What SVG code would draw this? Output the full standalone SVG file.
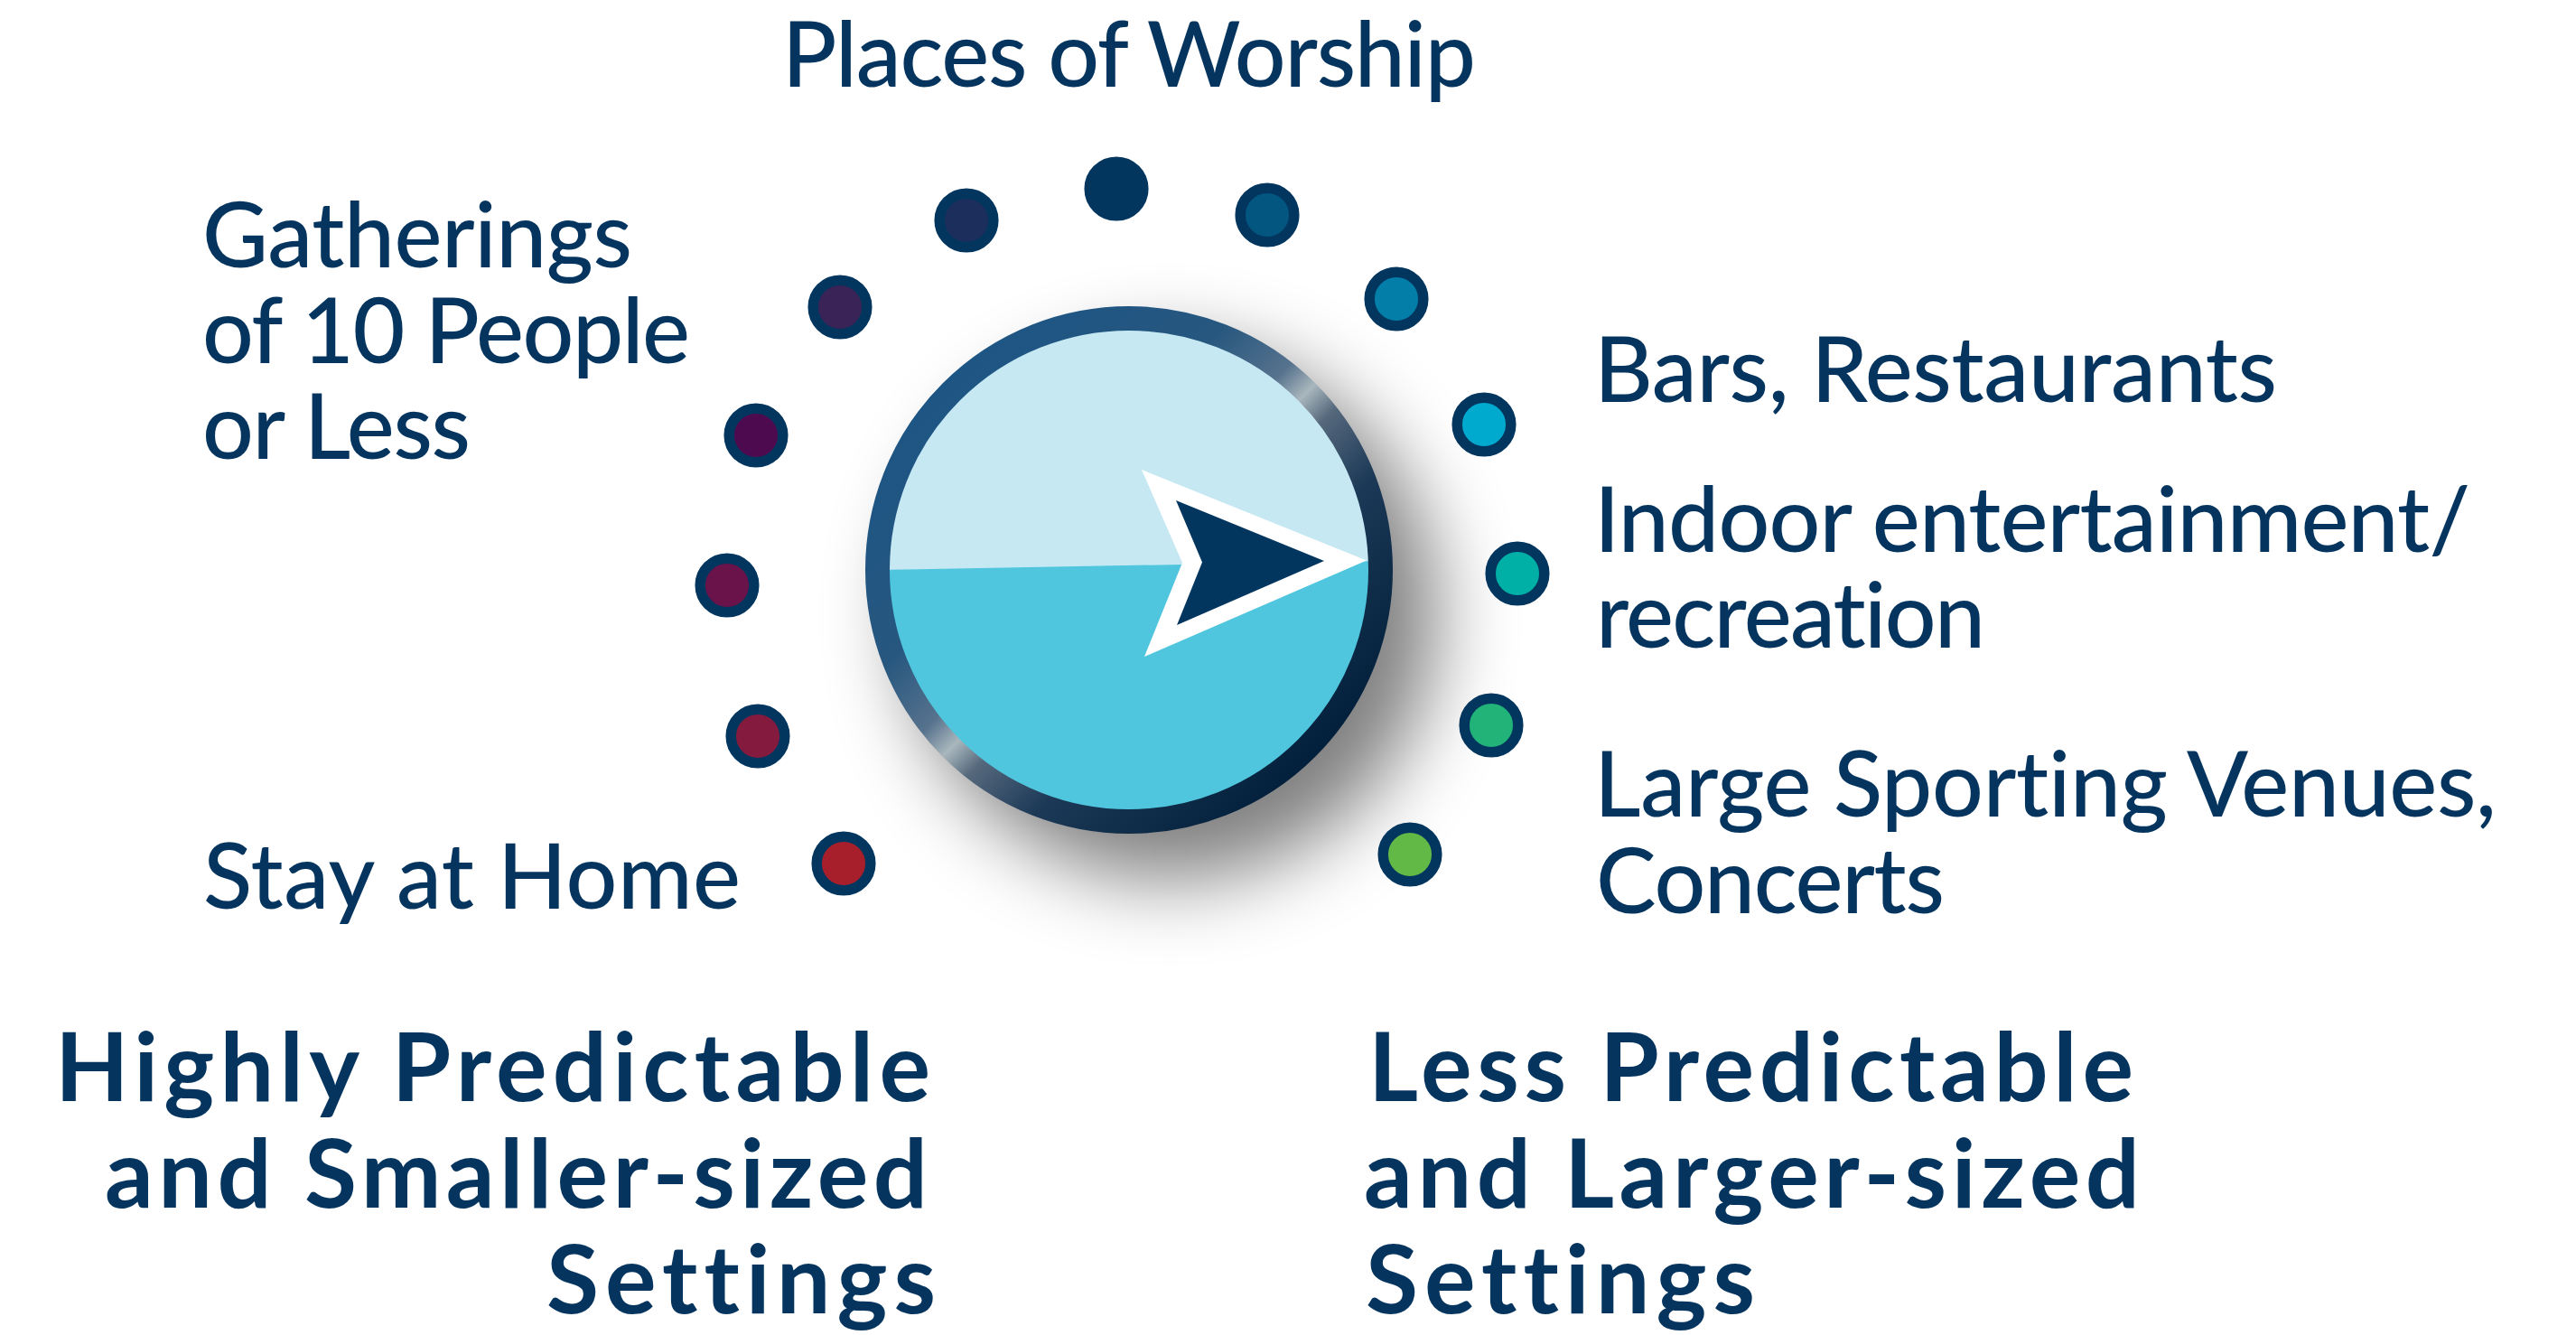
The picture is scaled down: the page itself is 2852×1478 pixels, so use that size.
<svg xmlns="http://www.w3.org/2000/svg" width="2852" height="1478" viewBox="0 0 2852 1478">
<style>
text{font-variant-ligatures:none;font-feature-settings:"liga" 0,"clig" 0}
.lbl{font-family:Lato,"Noto Sans","Liberation Sans",sans-serif;font-weight:500;font-size:100px;fill:#05355F}
.hd{font-family:Lato,"Noto Sans","Liberation Sans",sans-serif;font-weight:700;font-size:106px;fill:#05355F}
.dot{stroke:#02365F;stroke-width:11.5}
</style>
<defs>
<filter id="sh" x="-50%" y="-50%" width="200%" height="200%">
<feGaussianBlur stdDeviation="44"/>
</filter>
<linearGradient id="ring" gradientUnits="userSpaceOnUse" x1="1044" y1="425" x2="1456" y2="837">
<stop offset="0" stop-color="#1D5584"/>
<stop offset="0.3" stop-color="#27577F"/>
<stop offset="0.44" stop-color="#56728D"/>
<stop offset="0.5" stop-color="#A9B7BD"/>
<stop offset="0.56" stop-color="#55687C"/>
<stop offset="0.7" stop-color="#1C3957"/>
<stop offset="1" stop-color="#021F3B"/>
</linearGradient>
<clipPath id="face"><circle cx="1250" cy="631" r="266"/></clipPath>
</defs>
<rect width="2852" height="1478" fill="#FFFFFF"/>
<g id="connectors"/>
<g id="dial">
<circle cx="1296" cy="680" r="294" fill="#000" opacity="0.5" filter="url(#sh)"/>
<circle cx="1250" cy="631" r="266" fill="#4FC6DD"/>
<polygon points="970,330 1530,330 1530,621 970,631" fill="#C6E8F3" clip-path="url(#face)"/>
<circle cx="1250" cy="631" r="278.5" fill="none" stroke="url(#ring)" stroke-width="27"/>
<polygon points="1513,620.5 1264,520 1309,623 1267,727" fill="#FFFFFF"/>
<polygon points="1466,621 1302,554 1331,622.5 1303,692" fill="#02365F"/>
</g>
<g id="dots">
<circle id="d1" class="dot" cx="934" cy="956" r="29.8" fill="#A81F2C"/>
<circle id="d2" class="dot" cx="839" cy="815" r="29.8" fill="#841B3E"/>
<circle id="d3" class="dot" cx="805" cy="648" r="29.8" fill="#6A124A"/>
<circle id="d4" class="dot" cx="837" cy="482" r="29.8" fill="#4E0A4F"/>
<circle id="d5" class="dot" cx="930" cy="340" r="29.8" fill="#3A2357"/>
<circle id="d6" class="dot" cx="1070" cy="244" r="29.8" fill="#1C2E5C"/>
<circle id="d7" class="dot" cx="1236" cy="209" r="29.8" fill="#02365F"/>
<circle id="d8" class="dot" cx="1403" cy="238" r="29.8" fill="#02567F"/>
<circle id="d9" class="dot" cx="1546" cy="331" r="29.8" fill="#037EA8"/>
<circle id="d10" class="dot" cx="1643" cy="470" r="29.8" fill="#00AACE"/>
<circle id="d11" class="dot" cx="1680" cy="635" r="29.8" fill="#00AFA5"/>
<circle id="d12" class="dot" cx="1651" cy="803" r="29.8" fill="#22B378"/>
<circle id="d13" class="dot" cx="1561" cy="946" r="29.8" fill="#62B946"/>
</g>
<g id="label-worship"><text class="lbl" x="866" y="96" textLength="768" lengthAdjust="spacing">Places of Worship</text></g>
<g id="label-gatherings">
<text class="lbl" x="224" y="296" textLength="476" lengthAdjust="spacing">Gatherings</text>
<text class="lbl" x="224" y="402" textLength="540" lengthAdjust="spacing">of 10 People</text>
<text class="lbl" x="224" y="508" textLength="297" lengthAdjust="spacing">or Less</text>
</g>
<g id="label-home"><text class="lbl" x="225" y="1006" textLength="595" lengthAdjust="spacing">Stay at Home</text></g>
<g id="label-bars"><text class="lbl" x="1765" y="445" textLength="756" lengthAdjust="spacing">Bars, Restaurants</text></g>
<g id="label-indoor">
<text class="lbl" x="1765" y="611" textLength="970" lengthAdjust="spacing">Indoor entertainment/</text>
<text class="lbl" x="1767" y="717" textLength="431" lengthAdjust="spacing">recreation</text>
</g>
<g id="label-sporting">
<text class="lbl" x="1765" y="904" textLength="999" lengthAdjust="spacing">Large Sporting Venues,</text>
<text class="lbl" x="1767" y="1011" textLength="386" lengthAdjust="spacing">Concerts</text>
</g>
<g id="label-left-heading">
<text class="hd" x="61" y="1219" textLength="969" lengthAdjust="spacing">Highly Predictable</text>
<text class="hd" x="116" y="1337" textLength="911" lengthAdjust="spacing">and Smaller-sized</text>
<text class="hd" x="605" y="1454" textLength="431" lengthAdjust="spacing">Settings</text>
</g>
<g id="label-right-heading">
<text class="hd" x="1515" y="1219" textLength="847" lengthAdjust="spacing">Less Predictable</text>
<text class="hd" x="1510" y="1337" textLength="859" lengthAdjust="spacing">and Larger-sized</text>
<text class="hd" x="1512" y="1454" textLength="431" lengthAdjust="spacing">Settings</text>
</g>
</svg>
